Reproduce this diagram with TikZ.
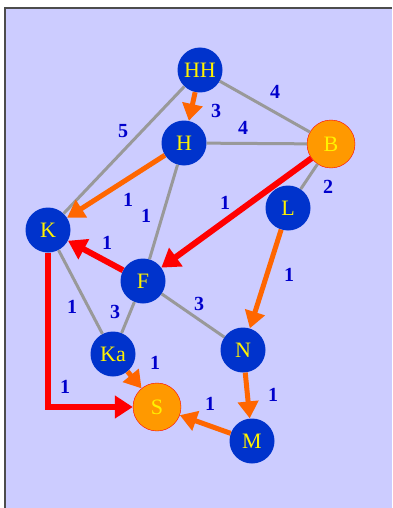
\documentclass[tikz,border=0pt]{standalone}
\usepackage{fontspec}
\setmainfont{Liberation Serif}
\usetikzlibrary{arrows.meta}
\definecolor{paper}{HTML}{CCCCFF}
\definecolor{cityblue}{HTML}{0033CC}
\definecolor{goalorange}{HTML}{FF9900}
\definecolor{wayorange}{HTML}{FF6600}
\definecolor{roadgray}{HTML}{999999}
\definecolor{costblue}{HTML}{0000CC}

\begin{document}
\begin{tikzpicture}[x=1pt,y=-1pt]
        \tikzstyle{city} = [circle, fill=cityblue, text=yellow, minimum size=45, inner sep=0pt, font=\fontsize{22}{22}\selectfont]
        \tikzstyle{goal} = [city, fill=goalorange, draw=red, thin, minimum size=48]
        \tikzstyle{cost} = [text=costblue, font=\bfseries\fontsize{20}{20}\selectfont]
        \tikzstyle{road} = [draw=roadgray, line width=3pt]
        \tikzstyle{way} = [draw=wayorange, line width=5pt, -{Triangle[length=17pt,width=20pt]}]
        \tikzstyle{best} = [draw=red, line width=6pt, -{Triangle[length=18pt,width=22pt]}]

        % Frame
        \useasboundingbox (0,0) rectangle (392,508);
        \fill[paper] (5,8) rectangle (392,508);
        \draw[line width=2pt, black!70] (5,508) -- (5,8) -- (392,8);

        % Nodes
        \node[city] (HH) at (200,70) {HH};
        \node[city] (H) at (184,143) {H};
        \node[goal] (B) at (331,144) {B};
        \node[city] (K) at (48,230) {K};
        \node[city] (L) at (288,208) {L};
        \node[city] (F) at (143,281) {F};
        \node[city] (Ka) at (113,354) {Ka};
        \node[city] (N) at (243,350) {N};
        \node[goal] (S) at (157,407) {S};
        \node[city] (M) at (252,441) {M};

        % Edges
        \path[road] (HH) -- (B);
        \path[road] (HH) -- (K);
        \path[road] (H) -- (B);
        \path[road] (H) -- (F);
        \path[road] (B) -- (L);
        \path[road] (K) -- (Ka);
        \path[road] (F) -- (Ka);
        \path[road] (F) -- (N);
        \path[way] (HH) -- (H);
        \path[way] (H) -- (K);
        \path[way] (L) -- (N);
        \path[way] (Ka) -- (S);
        \path[way] (N) -- (M);
        \path[way] (M) -- (S);
        \path[best] (B) -- (F);
        \path[best] (F) -- (K);
        \path[best] (K) |- (S);

        % Costs
        \node[cost] (cHHB) at (275,92) {4};
        \node[cost] (cHHH) at (216,111) {3};
        \node[cost] (cHHK) at (123,131) {5};
        \node[cost] (cHB) at (243,128) {4};
        \node[cost] (cHK) at (128,200) {1};
        \node[cost] (cHF) at (146,216) {1};
        \node[cost] (cBF) at (225,203) {1};
        \node[cost] (cBL) at (328,187) {2};
        \node[cost] (cLN) at (289,275) {1};
        \node[cost] (cFK) at (107,243) {1};
        \node[cost] (cKKa) at (72,307) {1};
        \node[cost] (cFKa) at (115,312) {3};
        \node[cost] (cFN) at (199,304) {3};
        \node[cost] (cKS) at (65,387) {1};
        \node[cost] (cKaS) at (155,363) {1};
        \node[cost] (cNM) at (273,395) {1};
        \node[cost] (cMS) at (210,404) {1};
    \end{tikzpicture}
\end{document}
